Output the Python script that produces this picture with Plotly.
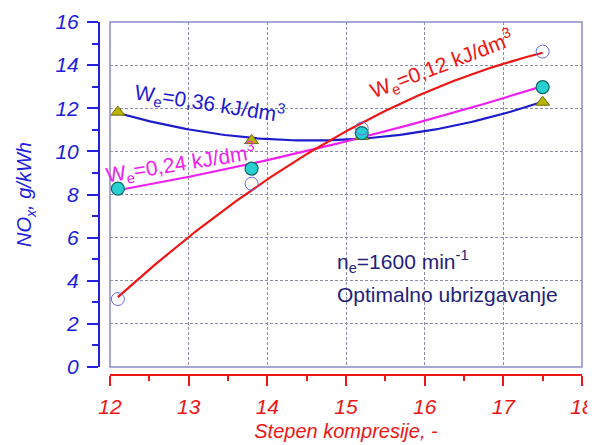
import numpy as np
import plotly.graph_objects as go

# Data
x_pts = [12.1, 13.8, 15.2, 17.5]
nox_012 = [3.15, 8.5, 11.06, 14.63]   # We = 0,12 kJ/dm3
nox_024 = [8.27, 9.2, 10.85, 12.98]   # We = 0,24 kJ/dm3
nox_036 = [11.82, 10.5, 10.7, 12.28]  # We = 0,36 kJ/dm3

x_ticks = [12, 13, 14, 15, 16, 17, 18]
y_ticks = [0, 2, 4, 6, 8, 10, 12, 14, 16]

W, H = 595, 445
OFF = 8  # browser body margin
FONT = "Liberation Sans, Arial, sans-serif"


def fx(p):
    return (p - OFF) / W


def fy(p):
    return 1 - (p - OFF) / H


fig = go.Figure()

xx = np.linspace(min(x_pts), max(x_pts), 120)
series = [
    (nox_036, "#1c1ccc", dict(symbol="triangle-up", size=12, color="#b8b400",
                              line=dict(color="#6e6a00", width=1))),
    (nox_024, "#f020f0", dict(symbol="circle", size=13, color="#28d0d0",
                              line=dict(color="#106868", width=1.2))),
    (nox_012, "#ee1515", dict(symbol="circle-open", size=13, color="#6a6ae0",
                              line=dict(width=1))),
]
for ys, col, mk in series:
    coef = np.polyfit(x_pts, ys, 2)
    fig.add_trace(go.Scatter(x=xx, y=np.polyval(coef, xx), mode="lines",
                             line=dict(color=col, width=2.2), showlegend=False,
                             hoverinfo="skip"))
for ys, col, mk in series:
    fig.add_trace(go.Scatter(x=x_pts, y=ys, mode="markers", marker=mk,
                             showlegend=False))

xd0, xd1 = fx(110), fx(582)
yd0, yd1 = fy(367), fy(22)

GRID = dict(showgrid=True, gridcolor="#8c8ca8", griddash="3px,2px", gridwidth=0.7)

fig.update_layout(
    width=W, height=H,
    margin=dict(l=0, r=0, t=0, b=0),
    paper_bgcolor="white", plot_bgcolor="white",
    font=dict(family=FONT),
    xaxis=dict(
        domain=[xd0, xd1], range=[12, 18], anchor="free", position=fy(375),
        automargin=False,
        tickvals=x_ticks, ticks="outside", ticklen=10, tickwidth=2,
        tickcolor="#ee1515", showline=True, linecolor="#ee1515", linewidth=2,
        ticklabelstandoff=3,
        tickfont=dict(family=FONT, size=21, color="#ee1515", style="italic"),
        minor=dict(dtick=0.5, ticks="outside", ticklen=5, tickwidth=1.5,
                   tickcolor="#ee1515", showgrid=False),
        zeroline=False,
        title=dict(text="Stepen kompresije, -", standoff=6,
                   font=dict(family=FONT, size=20, color="#ee1515", style="italic")),
        **GRID,
    ),
    yaxis=dict(
        domain=[yd0, yd1], range=[0, 16], anchor="free", position=fx(99),
        automargin=False,
        tickvals=y_ticks, ticks="outside", ticklen=11, tickwidth=2,
        tickcolor="#2020dd", showline=True, linecolor="#2020dd", linewidth=2,
        ticklabelstandoff=4,
        tickfont=dict(family=FONT, size=21, color="#2020dd", style="italic"),
        minor=dict(dtick=1, ticks="outside", ticklen=6, tickwidth=1.5,
                   tickcolor="#2020dd", showgrid=False),
        zeroline=False,
        title=dict(text="NO<sub>x</sub>, g/kWh", standoff=17,
                   font=dict(family=FONT, size=20, color="#2020dd", style="italic")),
        **GRID,
    ),
)

# plot frame
fig.add_shape(type="rect", xref="paper", yref="paper", x0=xd0, x1=xd1, y0=yd0, y1=yd1,
              line=dict(color="#8a8ac8", width=1.5), layer="below")

ann_font = lambda c: dict(family=FONT, size=21, color=c)
fig.add_annotation(x=13.26, y=12.20, text="W<sub>e</sub>=0,36 kJ/dm<sup>3</sup>",
                   showarrow=False, textangle=9, font=ann_font("#1c1ccc"))
fig.add_annotation(x=12.89, y=9.46, text="W<sub>e</sub>=0,24 kJ/dm<sup>3</sup>",
                   showarrow=False, textangle=-9, font=ann_font("#f020f0"))
fig.add_annotation(x=16.22, y=14.05, text="W<sub>e</sub>=0,12 kJ/dm<sup>3</sup>",
                   showarrow=False, textangle=-21, font=ann_font("#ee1515"))
fig.add_annotation(x=14.86, y=4.87, xanchor="left", text="n<sub>e</sub>=1600 min<sup>-1</sup>",
                   showarrow=False, font=ann_font("#22227a"))
fig.add_annotation(x=14.86, y=3.34, xanchor="left", text="Optimalno ubrizgavanje",
                   showarrow=False, font=ann_font("#22227a"))

fig.write_html("out.html")
